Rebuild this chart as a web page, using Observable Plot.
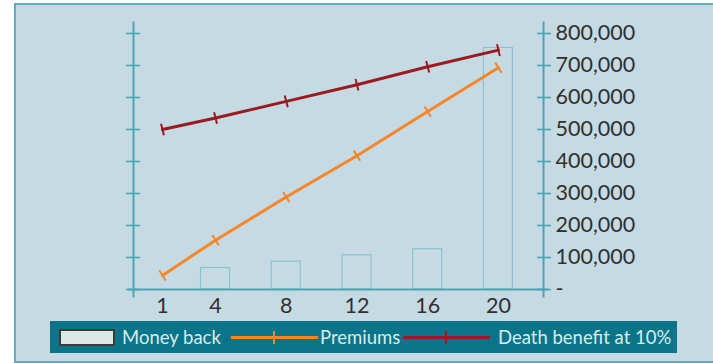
<!DOCTYPE html>
<html>
<head>
<meta charset="utf-8">
<script src="https://cdn.jsdelivr.net/npm/d3@7"></script>
<script src="https://cdn.jsdelivr.net/npm/@observablehq/plot@0.6"></script>
<style>
  html, body { margin: 0; padding: 0; background: #ffffff; }
  #wrap { position: relative; width: 713px; height: 363px; overflow: hidden; font-family: Lato, sans-serif; }
  #panel { position: absolute; left: 14px; top: 3px; width: 710px; height: 356px; background: #c6dae3; border: 2px solid #5eaebf; }
  #chart { position: absolute; left: 0; top: 0; }
  #legend { position: absolute; left: 50px; top: 321px; width: 627px; height: 32px; background: #0a7489;
            color: #d9ecef; font-size: 18.5px; white-space: nowrap; }
  #legend > * { position: absolute; }
  .txt { top: 50%; transform: translateY(-52%); }
  .box { left: 9px; top: 8px; width: 56px; height: 17px; box-sizing: border-box; background: #dbe8e6; border: 2px solid #3b3b3b; }
  .ln { top: 15px; width: 87px; height: 3px; }
  .ln::after { content: ""; position: absolute; left: 42px; top: -5px; width: 2px; height: 13px; background: inherit; }
</style>
</head>
<body>
<div id="wrap">
  <div id="panel"></div>
  <div id="chart"></div>
  <div id="legend"></div>
</div>
<script>
const years = [1, 4, 8, 12, 16, 20];
const xTickLabels = ["1", "4", "8", "12", "16", "20"];
const moneyBackYears = [4, 8, 12, 16, 20];
const moneyBack = [67000, 87000, 107000, 126000, 755000];
const premiums = [44000, 154000, 289000, 418000, 556000, 693000];
const deathBenefit = [500000, 536000, 588000, 640000, 696000, 748000];
const yTicks = [0, 100000, 200000, 300000, 400000, 500000, 600000, 700000, 800000];
const seriesNames = ["Money back", "Premiums", "Death benefit at 10%"];

const axisColor = "#4ea3b5";
const orange = "#f5862a";
const darkRed = "#9a1a20";

const bars = moneyBackYears.map((y, i) => ({year: y, value: moneyBack[i]}));
const prem = years.map((y, i) => ({year: y, value: premiums[i]}));
const death = years.map((y, i) => ({year: y, value: deathBenefit[i]}));

const tickSymbol = {
  draw(context) {
    context.moveTo(0, -6);
    context.lineTo(0, 6);
  }
};

const chart = Plot.plot({
  width: 713,
  height: 310,
  marginLeft: 133,
  marginRight: 170,
  marginTop: 22,
  marginBottom: 14,
  style: {background: "transparent", fontFamily: "Lato, sans-serif", overflow: "visible"},
  x: {domain: [-0.64, 22.55], label: null},
  y: {domain: [0, 800000], range: [289, 33], label: null},
  marks: [
    Plot.rectY(bars, {x1: "year", x2: "year", y: "value", insetLeft: -14.5, insetRight: -14.5,
      fill: "none", stroke: "#8cc2ce", strokeWidth: 1.2}),
    Plot.frame({anchor: "left", stroke: axisColor, strokeWidth: 2}),
    Plot.frame({anchor: "right", stroke: axisColor, strokeWidth: 2}),
    Plot.ruleY([0], {stroke: axisColor, strokeWidth: 2, insetLeft: -5, insetRight: -5}),
    Plot.axisY({anchor: "left", ticks: yTicks, tickSize: 14, dx: 7, tickFormat: () => "", label: null, stroke: axisColor, strokeWidth: 1.6}),
    Plot.axisY({anchor: "right", ticks: yTicks, tickSize: 14, dx: -7, tickFormat: () => "", label: null, stroke: axisColor, strokeWidth: 1.6}),
    Plot.axisY({anchor: "right", ticks: yTicks, tickSize: 0, tickPadding: 12, label: null,
      tickFormat: d => d === 0 ? "-" : d3.format(",")(d), fontSize: 21.5, fill: "#303030"}),
    Plot.axisX({anchor: "bottom", ticks: years, tickSize: 0, tickPadding: 1, label: null,
      tickFormat: (d, i) => xTickLabels[i], fontSize: 21.5, fill: "#303030"}),
    Plot.line(death, {x: "year", y: "value", stroke: darkRed, strokeWidth: 3}),
    Plot.dot(death, {x: "year", y: "value", symbol: tickSymbol, stroke: darkRed, strokeWidth: 2, rotate: -14, fill: "none"}),
    Plot.line(prem, {x: "year", y: "value", stroke: orange, strokeWidth: 3}),
    Plot.dot(prem, {x: "year", y: "value", symbol: tickSymbol, stroke: orange, strokeWidth: 2, rotate: -32, fill: "none"})
  ]
});
document.getElementById("chart").appendChild(chart);

const legend = document.getElementById("legend");
legend.innerHTML =
  `<span class="box"></span><span class="txt" style="left:72px">${seriesNames[0]}</span>` +
  `<span class="ln" style="left:181px;background:${orange}"></span><span class="txt" style="left:270px">${seriesNames[1]}</span>` +
  `<span class="ln" style="left:353px;background:${darkRed}"></span><span class="txt" style="left:448px">${seriesNames[2]}</span>`;
</script>
</body>
</html>
